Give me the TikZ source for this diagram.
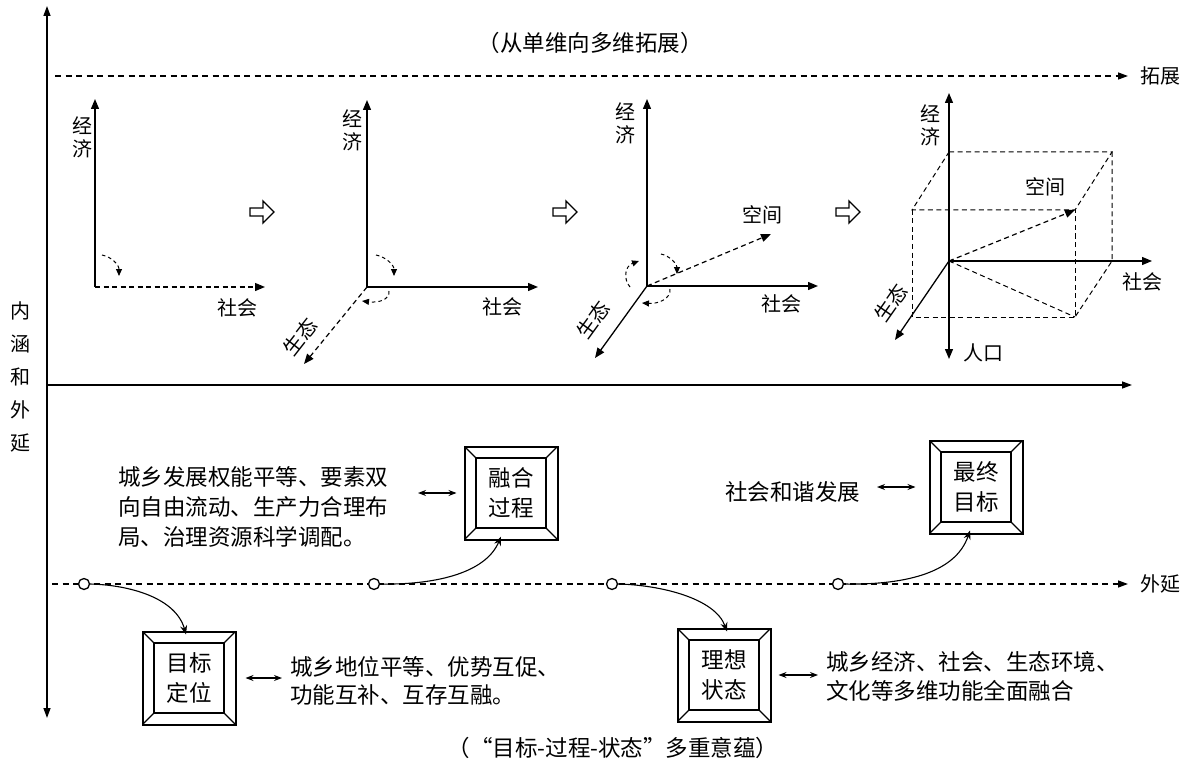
\documentclass[tikz,border=0pt]{standalone}
\usepackage{fontspec}
\setmainfont{Noto Sans CJK SC}
\usetikzlibrary{arrows.meta}
\newcommand\bevelbox[3]{%
  \node[outerbox] (#1) at #2 {};
  \node[innerbox] (#1i) at #2 {#3};
  \foreach \a in {north west,north east,south west,south east}
    \draw[line width=1.3pt] (#1.\a) -- (#1i.\a);
}
\newcommand\openarrow[1]{%
  \draw[line width=1.3pt,fill=white] (#1) ++(-12,-4) -- ++(13,0) -- ++(0,-7) -- ++(11,11) -- ++(-11,11) -- ++(0,-7) -- ++(-13,0) -- cycle;
}
\begin{document}
\begin{tikzpicture}[x=1pt,y=-1pt,
  ax/.style={line width=1.3pt,-{Triangle[length=10pt,width=8pt]}},
  dax/.style={line width=1.2pt,dash pattern=on 5pt off 3.5pt,-{Triangle[length=10pt,width=8pt]}},
  main/.style={line width=1.4pt,-{Triangle[length=10pt,width=7pt]}},
  mdash/.style={line width=1.3pt,dash pattern=on 6pt off 4.5pt,-{Triangle[length=10pt,width=7pt]}},
  carc/.style={line width=1pt,dash pattern=on 3.5pt off 3pt,-{Triangle[length=7pt,width=6pt]}},
  box/.style={line width=1pt,dash pattern=on 5pt off 3.5pt},
  lab/.style={font=\fontsize{20}{23}\selectfont,inner sep=0pt,align=center},
  txt/.style={font=\fontsize{22.5}{30}\selectfont,inner sep=0pt,align=left,anchor=west},
  outerbox/.style={draw,line width=2pt,minimum size=93pt,inner sep=0pt,outer sep=0pt},
  innerbox/.style={draw,line width=1.5pt,minimum size=70pt,inner sep=0pt,outer sep=0pt,
    align=center,font=\fontsize{22.5}{30}\selectfont},
  dbl/.style={line width=1.1pt,{Stealth[length=8pt,width=6pt]}-{Stealth[length=8pt,width=6pt]}},
  curv/.style={line width=1.1pt,-{Stealth[length=9pt,width=7pt]}},
  dot/.style={circle,draw,line width=1.3pt,fill=white,minimum size=11pt,inner sep=0pt}
]
\useasboundingbox (0,0) rectangle (1194,770);

% main frame
\coordinate (vb) at (47,718);
\coordinate (vt) at (47,6);
\draw[line width=1.4pt,{Triangle[length=10pt,width=7pt]}-{Triangle[length=10pt,width=7pt]}] (vb) -- (vt);
\coordinate (hl) at (47,385);
\coordinate (hr) at (1132,385);
\draw[main] (hl) -- (hr);
\node[lab,font=\fontsize{20}{33}\selectfont] (nh) at (20,377) {内\\涵\\和\\外\\延};

\coordinate (d1l) at (55,76);
\coordinate (d1r) at (1128,76);
\draw[mdash] (d1l) -- (d1r);
\node[lab] (tz) at (1160,76) {拓展};
\coordinate (d2l) at (52,584);
\coordinate (d2r) at (1128,584);
\draw[mdash] (d2l) -- (d2r);
\node[lab] (wy) at (1160,584) {外延};

\node[lab,font=\fontsize{22.5}{26}\selectfont] (title) at (590,43) {（从单维向多维拓展）};
\node[lab,font=\fontsize{22.5}{26}\selectfont] (title2) at (613,748) {（“目标-过程-状态”多重意蕴）};

% system 1
\coordinate (o1) at (95,287);
\coordinate (y1) at (95,99);
\coordinate (x1) at (265,287);
\draw[ax] (o1) -- (y1);
\draw[dax] (o1) -- (x1);
\node[lab] (j1) at (82,137) {经\\济};
\node[lab] (s1) at (237,308) {社会};
\coordinate (a1s) at (102,255);
\coordinate (a1e) at (119,276);
\draw[carc] (a1s) .. controls (112,257) and (119,265) .. (a1e);
\coordinate (b1) at (262,212);
\openarrow{b1}

% system 2
\coordinate (o2) at (367,287);
\coordinate (y2) at (367,100);
\coordinate (x2) at (538,287);
\coordinate (z2) at (304,364);
\draw[ax] (o2) -- (y2);
\draw[ax] (o2) -- (x2);
\draw[dax] (o2) -- (z2);
\node[lab] (j2) at (352,130) {经\\济};
\node[lab] (s2) at (502,307) {社会};
\node[lab,rotate=52] (e2) at (300,337) {生态};
\coordinate (a2s) at (376,255);
\coordinate (a2e) at (394,276);
\draw[carc] (a2s) .. controls (386,257) and (394,265) .. (a2e);
\coordinate (a3s) at (389,291);
\coordinate (a3e) at (362,301);
\draw[carc] (a3s) .. controls (390,300) and (378,303) .. (a3e);
\coordinate (b2) at (565,212);
\openarrow{b2}

% system 3
\coordinate (o3) at (647,286);
\coordinate (y3) at (647,99);
\coordinate (x3) at (818,286);
\coordinate (z3) at (595,358);
\coordinate (k3) at (771,234);
\draw[ax] (o3) -- (y3);
\draw[ax] (o3) -- (x3);
\draw[ax] (o3) -- (z3);
\draw[dax] (o3) -- (k3);
\node[lab] (j3) at (625,123) {经\\济};
\node[lab] (s3) at (781,304) {社会};
\node[lab,rotate=54] (e3) at (593,320) {生态};
\node[lab] (k3l) at (762,215) {空间};
\coordinate (a4s) at (661,254);
\coordinate (a4e) at (677,274);
\draw[carc] (a4s) .. controls (670,256) and (677,264) .. (a4e);
\coordinate (a5s) at (670,289);
\coordinate (a5e) at (642,303);
\draw[carc] (a5s) .. controls (671,299) and (658,304) .. (a5e);
\coordinate (a6s) at (630,287);
\coordinate (a6e) at (639,261);
\draw[carc] (a6s) .. controls (623,279) and (625,266) .. (a6e);
\coordinate (b3) at (848,212);
\openarrow{b3}

% system 4
\coordinate (o4) at (949,261);
\coordinate (y4) at (949,93);
\coordinate (n4) at (949,359);
\coordinate (x4) at (1152,261);
\coordinate (z4) at (895,340);
\coordinate (tb1) at (949,152);
\coordinate (tb2) at (1112,152);
\coordinate (tf1) at (912,210);
\coordinate (tf2) at (1075,210);
\coordinate (bf1) at (912,317);
\coordinate (bf2) at (1075,317);
\coordinate (bb2) at (1112,261);
\draw[box] (tb1) -- (tb2) -- (tf2) -- (tf1) -- cycle;
\draw[box] (tf1) -- (bf1) -- (bf2) -- (tf2);
\draw[box] (tb2) -- (bb2) -- (bf2);
\draw[box] (o4) -- (bf2);
\draw[dax] (o4) -- (tf2);
\draw[ax] (o4) -- (y4);
\draw[ax] (o4) -- (n4);
\draw[ax] (o4) -- (x4);
\draw[ax] (o4) -- (z4);
\node[lab] (j4) at (930,125) {经\\济};
\node[lab] (s4) at (1142,282) {社会};
\node[lab,rotate=55] (e4) at (891,303) {生态};
\node[lab] (k4l) at (1045,187) {空间};
\node[lab] (r4) at (983,353) {人口};

% bottom boxes
\bevelbox{rh}{(511,493)}{融合\\过程}
\bevelbox{zz}{(976,487)}{最终\\目标}
\bevelbox{mb}{(189,678)}{目标\\定位}
\bevelbox{lx}{(724,675)}{理想\\状态}

% texts
\node[txt] (t1) at (118,507) {城乡发展权能平等、要素双\\向自由流动、生产力合理布\\局、治理资源科学调配。};
\node[txt] (t2) at (725,492) {社会和谐发展};
\node[txt,font=\fontsize{22.5}{28}\selectfont] (t3) at (290,681) {城乡地位平等、优势互促、\\功能互补、互存互融。};
\node[txt,font=\fontsize{22.5}{29}\selectfont] (t4) at (826,676) {城乡经济、社会、生态环境、\\文化等多维功能全面融合};

\draw[dbl] ([xshift=-8pt]rh.west) -- ([xshift=418pt]rh.west -| 0,0);
\draw[dbl] ([xshift=-14pt]zz.west) -- ([xshift=877pt]zz.west -| 0,0);
\draw[dbl] ([xshift=10pt]mb.east) -- ([xshift=-8pt]t3.west |- mb.east);
\draw[dbl] ([xshift=8pt]lx.east) -- ([xshift=-8pt]t4.west |- lx.east);

% dots and curves
\node[dot] (c1) at (84,584) {};
\node[dot] (c2) at (374,584) {};
\node[dot] (c3) at (612,584) {};
\node[dot] (c4) at (838,584) {};
\draw[curv] (c1.east) .. controls (130,585) and (176,598) .. ([xshift=-3pt,yshift=-3pt]mb.north);
\draw[curv] (c2.east) .. controls (430,585) and (485,575) .. ([xshift=-10pt,yshift=3pt]rh.south);
\draw[curv] (c3.east) .. controls (660,585) and (715,598) .. ([xshift=3pt,yshift=-3pt]lx.north);
\draw[curv] (c4.east) .. controls (900,585) and (955,575) .. ([xshift=-6pt,yshift=3pt]zz.south);
\end{tikzpicture}
\end{document}
